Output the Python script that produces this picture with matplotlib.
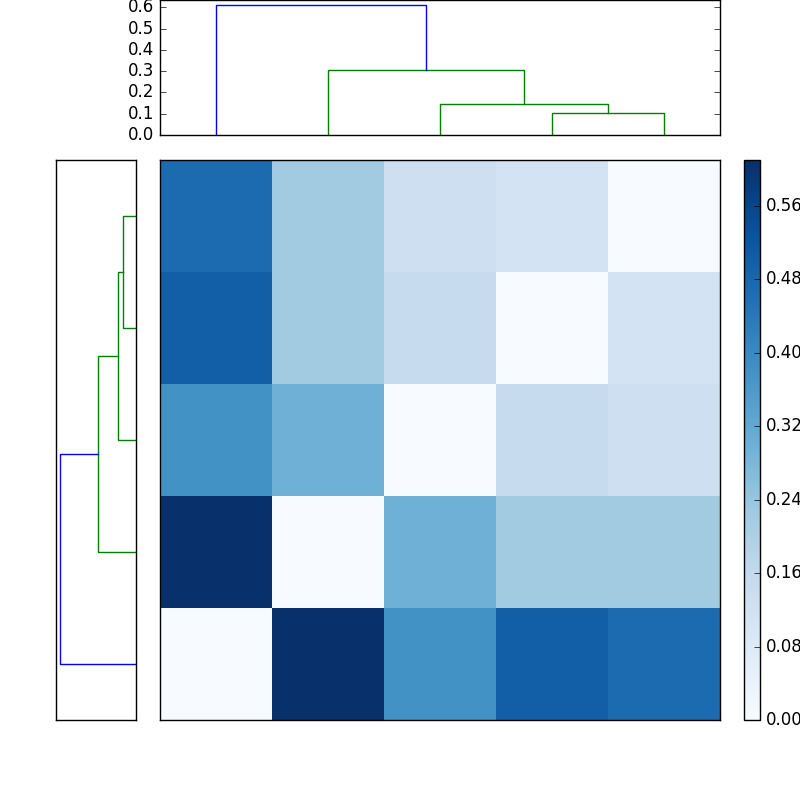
import matplotlib
matplotlib.use("Agg")
import matplotlib.pyplot as plt
import numpy as np
from matplotlib.ticker import FormatStrFormatter

plt.style.use('classic')

# distance matrix (row 0 at bottom)
dist = np.array([
    [0.00, 0.61, 0.38, 0.50, 0.47],
    [0.61, 0.00, 0.30, 0.22, 0.22],
    [0.38, 0.30, 0.00, 0.15, 0.13],
    [0.50, 0.22, 0.15, 0.00, 0.11],
    [0.47, 0.22, 0.13, 0.11, 0.00],
])
# linkage: (left, right, height, color); ids >=5 are merged clusters
links = [(3, 4, 0.105, 'g'), (2, 5, 0.145, 'g'), (1, 6, 0.305, 'g'), (0, 7, 0.61, 'b')]
n = 5
cb_ticks = [0.00, 0.08, 0.16, 0.24, 0.32, 0.40, 0.48, 0.56]

fig = plt.figure(figsize=(8, 8), dpi=100)

def segments():
    pos = {i: 5 + 10 * i for i in range(n)}
    hgt = {i: 0.0 for i in range(n)}
    out = []
    for k, (a, b, h, c) in enumerate(links):
        xs = [pos[a], pos[a], pos[b], pos[b]]
        ys = [hgt[a], h, h, hgt[b]]
        out.append((xs, ys, c))
        pos[n + k] = (pos[a] + pos[b]) / 2
        hgt[n + k] = h
    return out

ax_top = fig.add_axes([0.2, 0.83125, 0.7, 0.16875])
for xs, ys, c in segments():
    ax_top.plot(xs, ys, color=c)
ax_top.set_xlim(0, 10 * n)
ax_top.set_ylim(0, 0.635)
ax_top.set_xticks([])
ax_top.set_yticks(np.arange(0, 0.61, 0.1))

ax_left = fig.add_axes([0.07, 0.1, 0.1, 0.7])
for xs, ys, c in segments():
    ax_left.plot(ys, xs, color=c)
ax_left.set_ylim(0, 10 * n)
ax_left.set_xlim(0.642, 0)
ax_left.set_xticks([]); ax_left.set_yticks([])

ax = fig.add_axes([0.2, 0.1, 0.7, 0.7])
im = ax.imshow(dist, cmap='Blues', origin='lower', aspect='auto',
               interpolation='nearest', vmin=0, vmax=0.61)
ax.set_xticks([]); ax.set_yticks([])

cax = fig.add_axes([0.93, 0.1, 0.02, 0.7])
cb = fig.colorbar(im, cax=cax, ticks=cb_ticks)
cb.ax.yaxis.set_major_formatter(FormatStrFormatter('%.2f'))

fig.savefig("out.png", dpi=100)
